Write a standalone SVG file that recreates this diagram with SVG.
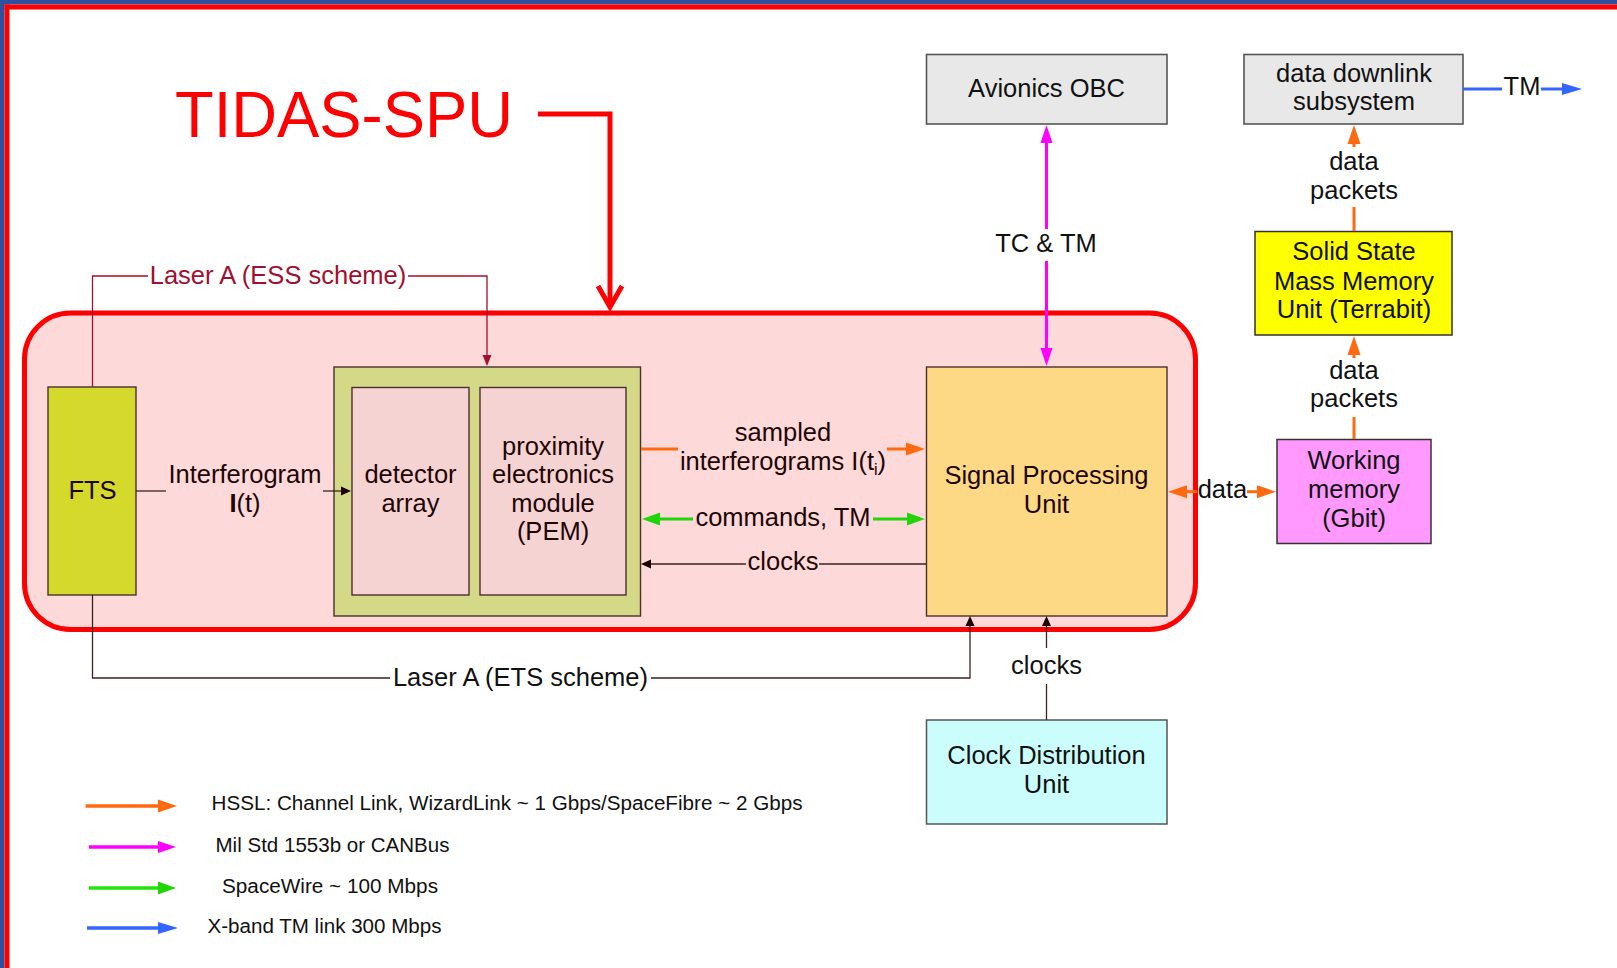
<svg xmlns="http://www.w3.org/2000/svg" width="1617" height="968" viewBox="0 0 1617 968">
<style>
text{font-family:"Liberation Sans",Arial,sans-serif;font-size:25.5px;fill:#111;text-anchor:middle}
.dk{fill:#1e0606}
.lg{font-size:20px;text-anchor:start;fill:#111}
.box{stroke:#4a3030;stroke-width:1.4}
.gbox{fill:#e8e8e8;stroke:#555;stroke-width:1.6}
.thin{fill:none;stroke:#3a2222;stroke-width:1.3}
.or{fill:none;stroke:#ff6a10;stroke-width:3}
.mg{fill:none;stroke:#ff00ff;stroke-width:3}
.gr{fill:none;stroke:#22d40a;stroke-width:3}
.bl{fill:none;stroke:#3366ff;stroke-width:3}
</style>
<defs>
<marker id="aO" markerUnits="userSpaceOnUse" markerWidth="22" markerHeight="16" refX="0" refY="8" orient="auto-start-reverse" overflow="visible"><path d="M0,1.5 L19,8 L0,14.5 z" fill="#ff6a10"/></marker>
<marker id="aM" markerUnits="userSpaceOnUse" markerWidth="22" markerHeight="16" refX="0" refY="8" orient="auto-start-reverse" overflow="visible"><path d="M0,2 L18,8 L0,14 z" fill="#ff00ff"/></marker>
<marker id="aG" markerUnits="userSpaceOnUse" markerWidth="22" markerHeight="16" refX="0" refY="8" orient="auto-start-reverse" overflow="visible"><path d="M0,1.5 L18,8 L0,14.5 z" fill="#22d40a"/></marker>
<marker id="aB" markerUnits="userSpaceOnUse" markerWidth="22" markerHeight="16" refX="0" refY="8" orient="auto-start-reverse" overflow="visible"><path d="M0,2 L20,8 L0,14 z" fill="#3366ff"/></marker>
<marker id="aK" markerUnits="userSpaceOnUse" markerWidth="12" markerHeight="10" refX="0" refY="5" orient="auto" overflow="visible"><path d="M0,0.5 L10,5 L0,9.5 z" fill="#1a0000"/></marker>
<marker id="aR" markerUnits="userSpaceOnUse" markerWidth="12" markerHeight="10" refX="0" refY="5" orient="auto" overflow="visible"><path d="M0,0.5 L11,5 L0,9.5 z" fill="#a01030"/></marker>
</defs>

<rect x="0" y="0" width="1617" height="968" fill="#ffffff"/>
<g id="frame">
<rect x="0" y="0" width="1617" height="4.5" fill="#2f4f9f"/>
<rect x="0" y="0" width="4.5" height="968" fill="#2f4f9f"/>
<rect x="4.5" y="4.5" width="1612.5" height="5" fill="#ff0000"/>
<rect x="4.5" y="4.5" width="5" height="963.5" fill="#ff0000"/>
</g>

<g id="tidas-container">
<rect x="24.5" y="313" width="1171" height="316.5" rx="46" ry="46" fill="#fdd9d9" stroke="#ff0000" stroke-width="5"/>
</g>

<g id="title">
<text x="175" y="137" style="font-size:64px;text-anchor:start;fill:#ff0000" textLength="338" lengthAdjust="spacingAndGlyphs">TIDAS-SPU</text>
<path d="M538,114 H610 V306" fill="none" stroke="#ff0000" stroke-width="5"/>
<path d="M598,286 L610,307 L622,286" fill="none" stroke="#ff0000" stroke-width="5" stroke-linejoin="miter"/>
</g>

<g id="fts">
<rect x="48" y="387" width="88" height="208" fill="#d4d92c" class="box"/>
<text x="92.5" y="499" class="dk">FTS</text>
</g>

<g id="pem-assembly">
<rect x="334" y="367" width="306.5" height="249" fill="#d4d987" class="box"/>
</g>
<g id="detector-array">
<rect x="352" y="387.5" width="117" height="207.5" fill="#f6d3d3" class="box"/>
<text x="410.5" y="483" class="dk">detector</text>
<text x="410.5" y="512" class="dk">array</text>
</g>
<g id="pem">
<rect x="480" y="387.5" width="146" height="207.5" fill="#f6d3d3" class="box"/>
<text x="553" y="455" class="dk">proximity</text>
<text x="553" y="483" class="dk">electronics</text>
<text x="553" y="512" class="dk">module</text>
<text x="553" y="540" class="dk">(PEM)</text>
</g>

<g id="spu">
<rect x="926.5" y="367" width="240.5" height="249" fill="#fed985" class="box"/>
<text x="1046.5" y="484" class="dk">Signal Processing</text>
<text x="1046.5" y="513" class="dk">Unit</text>
</g>

<g id="avionics-obc">
<rect x="926.5" y="54.5" width="240.5" height="69.5" class="gbox"/>
<text x="1046.5" y="97">Avionics OBC</text>
</g>

<g id="data-downlink">
<rect x="1244" y="54.5" width="219" height="69.5" class="gbox"/>
<text x="1354" y="82">data downlink</text>
<text x="1354" y="110">subsystem</text>
</g>

<g id="ssmmu">
<rect x="1255" y="231.5" width="197" height="103.5" fill="#ffff00" stroke="#333" stroke-width="1.5"/>
<text x="1354" y="260">Solid State</text>
<text x="1354" y="289.5">Mass Memory</text>
<text x="1354" y="318">Unit (Terrabit)</text>
</g>

<g id="working-memory">
<rect x="1277" y="439.5" width="154" height="104" fill="#ff99ff" stroke="#333" stroke-width="1.5"/>
<text x="1354" y="469">Working</text>
<text x="1354" y="498">memory</text>
<text x="1354" y="527">(Gbit)</text>
</g>

<g id="clock-distribution">
<rect x="926.5" y="720" width="240.5" height="104" fill="#ccfdfd" stroke="#555" stroke-width="1.5"/>
<text x="1046.5" y="764">Clock Distribution</text>
<text x="1046.5" y="793">Unit</text>
</g>

<g id="connectors">
<path d="M92.5,387 V276 H148 M408,276 H487 V355" fill="none" stroke="#a01030" stroke-width="1.3" marker-end="url(#aR)"/>
<path d="M92.5,595 V678 H390" class="thin"/>
<path d="M651,678 H970 V626" class="thin" marker-end="url(#aK)"/>
<path d="M136,491 H166" class="thin"/>
<path d="M323,491 H341" class="thin" marker-end="url(#aK)"/>
<path d="M641,449 H678" class="or"/>
<path d="M887,449 H906" class="or" marker-end="url(#aO)"/>
<path d="M660,519 H693" class="gr" marker-start="url(#aG)"/>
<path d="M873,519 H907" class="gr" marker-end="url(#aG)"/>
<path d="M926,564 H819" class="thin"/>
<path d="M746,564 H651" class="thin" marker-end="url(#aK)"/>
<path d="M1046.5,143 V229" class="mg" marker-start="url(#aM)"/>
<path d="M1046.5,261 V348" class="mg" marker-end="url(#aM)"/>
<path d="M1046.5,720 V684" class="thin"/>
<path d="M1046.5,648 V626" class="thin" marker-end="url(#aK)"/>
<path d="M1187,491.7 H1197" class="or" marker-start="url(#aO)"/>
<path d="M1247,491.7 H1257" class="or" marker-end="url(#aO)"/>
<path d="M1354,439 V417" class="or"/>
<path d="M1354,358 V355" class="or" marker-end="url(#aO)"/>
<path d="M1354,231 V207" class="or"/>
<path d="M1354,147 V144" class="or" marker-end="url(#aO)"/>
<path d="M1463,89 H1502" class="bl"/>
<path d="M1541,89 H1562" class="bl" marker-end="url(#aB)"/>
</g>

<g id="connector-labels">
<text x="278" y="284" style="fill:#a01030">Laser A (ESS scheme)</text>
<text x="520.5" y="686">Laser A (ETS scheme)</text>
<text x="245" y="483" class="dk">Interferogram</text>
<text x="245" y="512" class="dk"><tspan font-weight="bold">I</tspan>(t)</text>
<text x="783" y="441" class="dk">sampled</text>
<text x="783" y="470" class="dk">interferograms I(t<tspan dy="5" style="font-size:16px">i</tspan><tspan dy="-5">)</tspan></text>
<text x="783" y="526" class="dk">commands, TM</text>
<text x="783" y="570" class="dk">clocks</text>
<text x="1046" y="252">TC &amp; TM</text>
<text x="1046.5" y="674">clocks</text>
<text x="1222.5" y="498">data</text>
<text x="1354" y="170">data</text>
<text x="1354" y="199">packets</text>
<text x="1354" y="379">data</text>
<text x="1354" y="407">packets</text>
<text x="1522" y="95">TM</text>
</g>

<g id="legend">
<path d="M85.6,806 H158" fill="none" stroke="#ff6a10" stroke-width="3.5" marker-end="url(#aO)"/>
<path d="M89,847 H158" fill="none" stroke="#ff00ff" stroke-width="3.5" marker-end="url(#aM)"/>
<path d="M89,888 H158" fill="none" stroke="#22e40a" stroke-width="3.5" marker-end="url(#aG)"/>
<path d="M87,928 H158" fill="none" stroke="#3366ff" stroke-width="3.5" marker-end="url(#aB)"/>
<text x="211.5" y="809.5" class="lg" textLength="591" lengthAdjust="spacingAndGlyphs">HSSL: Channel Link, WizardLink ~ 1 Gbps/SpaceFibre ~ 2 Gbps</text>
<text x="215.5" y="851.5" class="lg" textLength="234" lengthAdjust="spacingAndGlyphs">Mil Std 1553b or CANBus</text>
<text x="222" y="892.5" class="lg" textLength="216" lengthAdjust="spacingAndGlyphs">SpaceWire ~ 100 Mbps</text>
<text x="207.5" y="932.5" class="lg" textLength="234" lengthAdjust="spacingAndGlyphs">X-band TM link 300 Mbps</text>
</g>
</svg>
